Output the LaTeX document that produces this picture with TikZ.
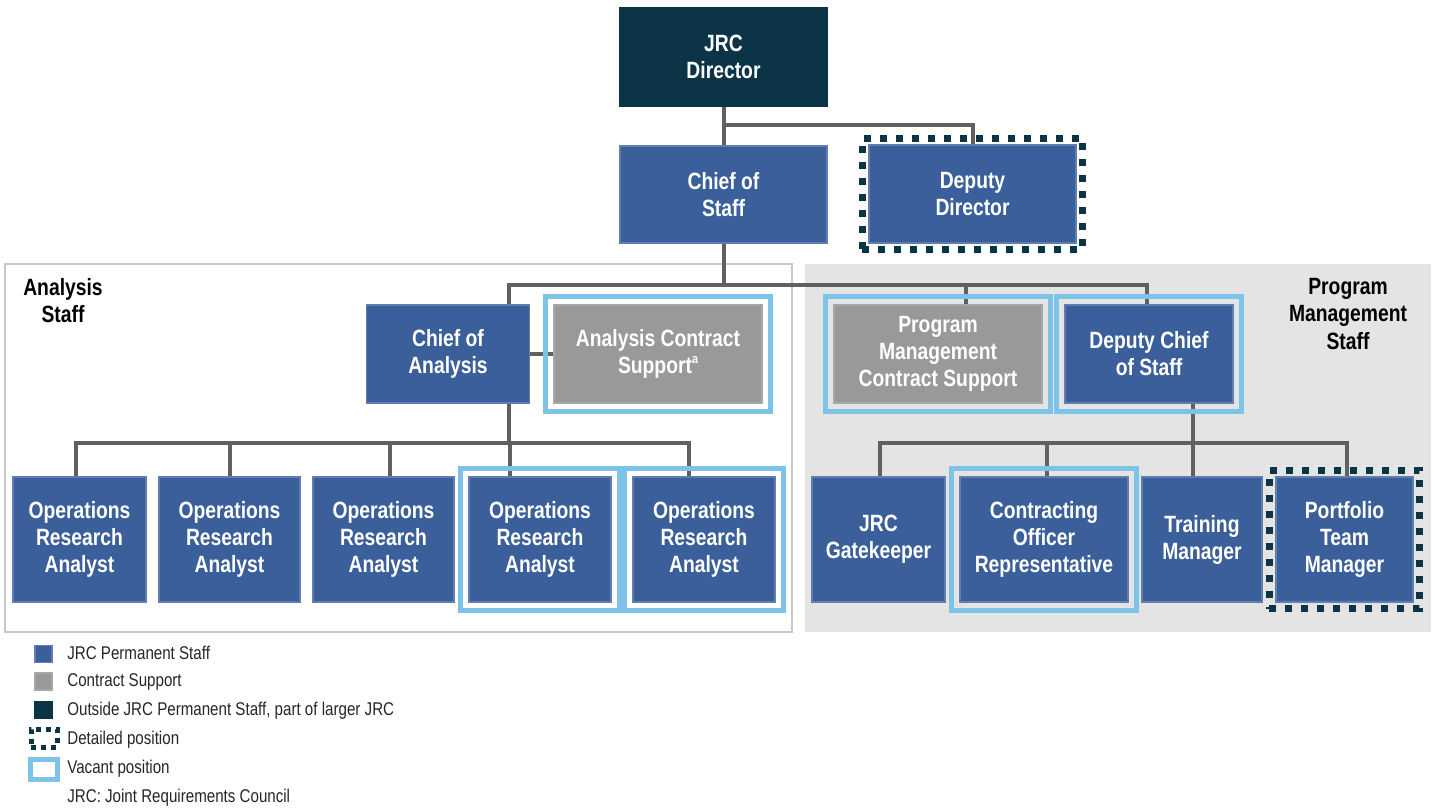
\documentclass[tikz,border=0pt]{standalone}
\usepackage{fontspec}
\setmainfont{Liberation Sans}[FakeStretch=0.82]
\usepackage{xcolor}
\usepackage{tikz}
\usetikzlibrary{positioning,calc,fit}

\definecolor{jrcblue}{HTML}{3A5F9A}
\definecolor{jrcdark}{HTML}{0C3447}
\definecolor{ctgray}{HTML}{999999}
\definecolor{vacblue}{HTML}{7DC3E8}
\definecolor{linegray}{HTML}{606060}
\definecolor{panelgray}{HTML}{E4E4E4}
\definecolor{panelline}{HTML}{C8C8C8}

\newcommand{\boxfont}{\fontsize{13.4}{15.4}\selectfont\bfseries}
\newcommand{\keyfont}{\fontsize{10.5}{12}\selectfont}
\newcommand{\fnmark}[1]{\raisebox{0.42em}{\fontsize{7.5}{8}\selectfont #1}}

\pgfdeclarelayer{bg}
\pgfdeclarelayer{lines}
\pgfsetlayers{bg,lines,main}

\tikzset{
    wh/.style 2 args={minimum width=#1*0.02cm, minimum height=#2*0.02cm},
    staff/.style={rectangle, fill=jrcblue, draw=jrcblue!80!white, line width=0.03cm,
        text=white, font=\boxfont, align=center, inner sep=0pt},
    outside/.style={staff, fill=jrcdark, draw=jrcdark},
    contract/.style={staff, fill=ctgray, draw=ctgray!85!white},
    vacant/.style={rectangle, draw=vacblue, line width=0.1cm, inner sep=0.15cm},
    detailed/.style={rectangle, draw=jrcdark, line width=0.14cm,
        dash pattern=on 0.14cm off 0.18cm, inner sep=0.12cm},
    conn/.style={draw=linegray, line width=0.08cm},
    grouplbl/.style={font=\boxfont, align=center, text=black},
    keytxt/.style={anchor=west, font=\keyfont, text=black!85, inner sep=0pt}
}

\begin{document}
\begin{tikzpicture}[x=0.02cm, y=-0.02cm]
    \useasboundingbox (0,0) rectangle (1435,809);

    % Staff panels
    \begin{pgfonlayer}{bg}
        \draw[panelline, line width=0.04cm, fill=white] (5,264) rectangle (792,632);
        \fill[panelgray] (805,264) rectangle (1431,632);
    \end{pgfonlayer}
    \node[grouplbl] (anastaff) at (63,301) {Analysis\\Staff};
    \node[grouplbl] (pmstaff) at (1348,314) {Program\\Management\\Staff};

    % Top of the chart
    \node[outside, wh={207}{98}] (dir) at (723.5,57) {JRC\\Director};
    \node[staff, wh={207}{97}] (cos) at (723.5,194.5) {Chief of\\Staff};
    \node[staff, wh={207}{98}] (ddir) at (972.5,194) {Deputy\\Director};
    \node[detailed, fit=(ddir)] (ddirb) {};

    % Second row
    \node[staff, wh={163}{98}] (ca) at (448,354) {Chief of\\Analysis};
    \node[contract, wh={208}{98}] (acs) at (658,354) {Analysis Contract\\Support\fnmark{a}};
    \node[vacant, fit=(acs)] (acsb) {};
    \node[contract, wh={208}{98}] (pmcs) at (938,354) {Program\\Management\\Contract Support};
    \node[vacant, fit=(pmcs)] (pmcsb) {};
    \node[staff, wh={168}{98}] (dcos) at (1149,354) {Deputy Chief\\of Staff};
    \node[vacant, fit=(dcos)] (dcosb) {};

    % Analysts
    \node[staff, wh={133}{125}] (oa1) at (79.5,539.5) {Operations\\Research\\Analyst};
    \node[staff, wh={141}{125}] (oa2) at (229.5,539.5) {Operations\\Research\\Analyst};
    \node[staff, wh={141}{125}] (oa3) at (383.5,539.5) {Operations\\Research\\Analyst};
    \node[staff, wh={142}{125}] (oa4) at (540,539.5) {Operations\\Research\\Analyst};
    \node[vacant, fit=(oa4)] (oa4b) {};
    \node[staff, wh={142}{125}] (oa5) at (704,539.5) {Operations\\Research\\Analyst};
    \node[vacant, fit=(oa5)] (oa5b) {};

    % Program management positions
    \node[staff, wh={133}{125}] (gk) at (878.5,539.5) {JRC\\Gatekeeper};
    \node[staff, wh={168}{125}] (cor) at (1044,539.5) {Contracting\\Officer\\Representative};
    \node[vacant, fit=(cor)] (corb) {};
    \node[staff, wh={120}{125}] (tm) at (1202,539.5) {Training\\Manager};
    \node[staff, wh={137}{125}] (ptm) at (1344.5,539.5) {Portfolio\\Team\\Manager};
    \node[detailed, fit=(ptm)] (ptmb) {};

    % Connectors
    \begin{pgfonlayer}{lines}
        \draw[conn] (dir) -- (cos);
        \draw[conn] (dir.south) ++(0,18) -| (ddir.north);
        \draw[conn] (cos.south) -- ++(0,41.5) coordinate (topbus);
        \draw[conn] ($(ca.north)+(61,0)$) |- (topbus) -| ($(dcos.north)+(-2,0)$);
        \draw[conn] (topbus) -| ($(pmcs.north)+(28,0)$);
        \draw[conn] (ca) -- (acs);
        \draw[conn] ($(ca.south)+(61,0)$) -- ++(0,39) coordinate (anabus);
        \foreach \n/\dx in {oa1/-3.5,oa2/0.5,oa3/6.5,oa4/-30,oa5/-15}
            \draw[conn] (anabus) -| ($(\n.north)+(\dx,0)$);
        \draw[conn] ($(dcos.south)+(44,0)$) -- ++(0,39) coordinate (pmbus);
        \foreach \n/\dx in {gk/1.5,cor/3,tm/-9,ptm/2.5}
            \draw[conn] (pmbus) -| ($(\n.north)+(\dx,0)$);
    \end{pgfonlayer}

    % Legend
    \node[staff, wh={17}{17}] (kperm) at (43.5,654) {};
    \node[contract, wh={17}{17}] (kcont) at (43.5,681.5) {};
    \node[outside, wh={17}{17}] (kout) at (43.5,710) {};
    \node[rectangle, draw=jrcdark, line width=0.1cm, dash pattern=on 0.1cm off 0.1cm,
        wh={26}{18}] (kdet) at (44,738) {};
    \node[rectangle, draw=vacblue, line width=0.1cm, fill=white, wh={27}{20}] (kvac) at (44,769.5) {};
    \node[keytxt] (kpermtxt) at (67,653) {JRC Permanent Staff};
    \node[keytxt] (kconttxt) at (67,682) {Contract Support};
    \node[keytxt] (kouttxt) at (67,710.5) {Outside JRC Permanent Staff, part of larger JRC};
    \node[keytxt] (kdettxt) at (67,739.5) {Detailed position};
    \node[keytxt] (kvactxt) at (67,768.5) {Vacant position};
    \node[keytxt] (jrcnote) at (67,797.5) {JRC: Joint Requirements Council};
\end{tikzpicture}
\end{document}
